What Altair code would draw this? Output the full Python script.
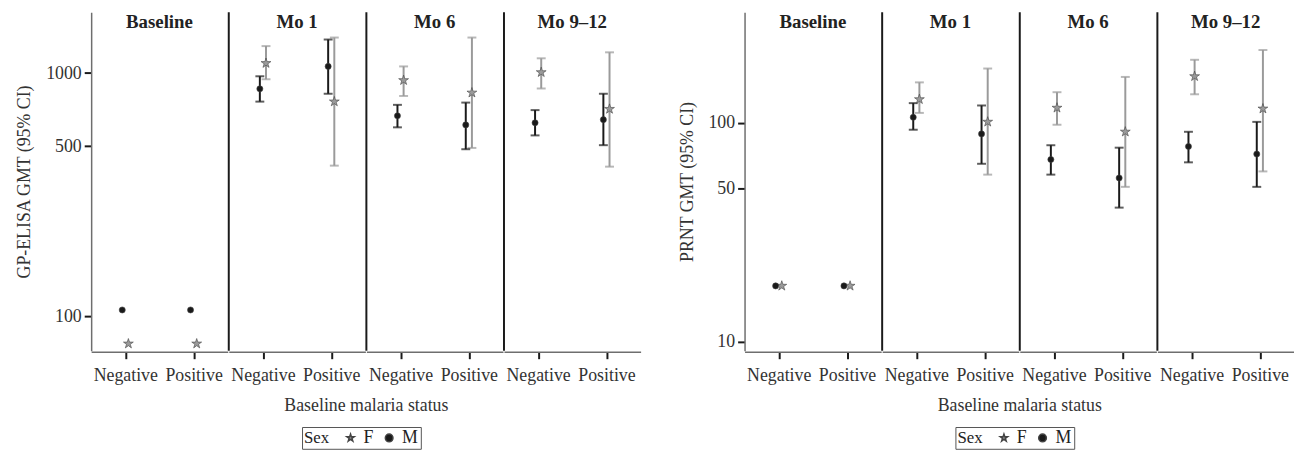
import altair as alt
import pandas as pd

times = ["Baseline", "Mo 1", "Mo 6", "Mo 9–12"]
statuses = ["Negative", "Positive"]
sexes = ["F", "M"]

# order: time -> status -> sex (F, M)
elisa_gmt = [77, 106, 77, 106,
             1098, 861, 763, 1065,
             934, 667, 830, 612,
             1007, 624, 711, 643]
elisa_lo = [None, None, None, None,
            943, 763, 416, 822,
            805, 598, 492, 486,
            864, 554, 412, 505]
elisa_hi = [None, None, None, None,
            1291, 970, 1400, 1374,
            1065, 740, 1400, 756,
            1150, 704, 1217, 822]

prnt_gmt = [18, 18, 18, 18,
            128, 106, 101, 89,
            117, 68, 91, 56,
            163, 78, 116, 72]
prnt_lo = [None, None, None, None,
           111, 93, 58, 65,
           98, 58, 51, 41,
           135, 66, 60, 51]
prnt_hi = [None, None, None, None,
           153, 123, 177, 120,
           138, 79, 162, 77,
           194, 91, 215, 101]

rows_t, rows_s, rows_x = [], [], []
for t in times:
    for s in statuses:
        for x in sexes:
            rows_t.append(t); rows_s.append(s); rows_x.append(x)

FONT = "Liberation Serif"
STAR = "M0,-1L0.2245,-0.309L0.951,-0.309L0.363,0.118L0.588,0.809L0,0.382L-0.588,0.809L-0.363,0.118L-0.951,-0.309L-0.2245,-0.309Z"
PW, PH = 138, 342
GREY, BLACK = "#9a9a9a", "#1a1a1a"


def make_chart(gmt, lo, hi, ytitle, ydomain, yvals):
    df = pd.DataFrame({"time": rows_t, "status": rows_s, "Sex": rows_x,
                       "gmt": gmt, "lo": lo, "hi": hi})
    base = alt.Chart().transform_calculate(
        xpos="(datum.status == 'Positive' ? 1 : 0) + (datum.Sex == 'F' ? 0.045 : -0.045)"
    )
    xenc = alt.X("xpos:Q", scale=alt.Scale(domain=[-0.5, 1.5], nice=False, zero=False),
                 axis=alt.Axis(values=[0, 1], labelExpr="datum.value == 0 ? 'Negative' : 'Positive'",
                               title=None, grid=False,
                               domainColor="#6e6e6e", domainWidth=1.5,
                               tickColor=BLACK, tickWidth=2, tickSize=7,
                               labelFontSize=18, labelFont=FONT, labelColor="#333",
                               labelPadding=8))
    yscale = alt.Scale(type="log", domain=ydomain, nice=False)
    yenc = alt.Y("gmt:Q", scale=yscale,
                 axis=alt.Axis(values=yvals, format="d", title=ytitle, grid=False,
                               domainColor="#6e6e6e", domainWidth=1.5,
                               tickColor=BLACK, tickWidth=2, tickSize=7,
                               labelFontSize=18, labelFont=FONT, labelColor="#333",
                               labelPadding=3, titleFontSize=18, titleFont=FONT,
                               titleFontWeight="normal", titleColor="#333", titlePadding=12))
    colcond = alt.condition("datum.Sex == 'F'", alt.value(GREY), alt.value(BLACK))
    colscale = alt.Scale(domain=["F", "M"], range=[GREY, BLACK])
    shapescale = alt.Scale(domain=["F", "M"], range=[STAR, "circle"])
    legend = alt.Legend(title="Sex", orient="none", legendX=213, legendY=419)

    bars = base.mark_rule(strokeWidth=2).encode(
        x=xenc, y=alt.Y("lo:Q", scale=yscale), y2="hi:Q", color=colcond)
    cap_lo = base.mark_tick(orient="horizontal", size=9, thickness=2).encode(
        x=xenc, y=alt.Y("lo:Q", scale=yscale), color=colcond)
    cap_hi = base.mark_tick(orient="horizontal", size=9, thickness=2).encode(
        x=xenc, y=alt.Y("hi:Q", scale=yscale), color=colcond)
    pts = base.mark_point(filled=True, opacity=1, stroke="#444", strokeWidth=0.6).encode(
        x=xenc, y=yenc,
        color=alt.Color("Sex:N", scale=colscale, legend=legend),
        shape=alt.Shape("Sex:N", scale=shapescale, legend=legend),
        size=alt.Size("Sex:N", scale=alt.Scale(domain=["F", "M"], range=[110, 38]), legend=None))
    sep = alt.Chart().transform_aggregate(n="count()", groupby=["time"]).transform_filter(
        "datum.time != 'Baseline'"
    ).mark_rule(color=BLACK, strokeWidth=2).encode(
        x=alt.value(0), y=alt.value(0), y2=alt.value(PH))
    head = alt.Chart().transform_aggregate(n="count()", groupby=["time"]).mark_text(
        font=FONT, fontSize=19, fontWeight="bold", color="#222", baseline="middle"
    ).encode(x=alt.value(PW / 2), y=alt.value(10), text="time:N")

    layered = alt.layer(bars, cap_lo, cap_hi, pts, sep, head).properties(width=PW, height=PH)
    return layered.facet(
        column=alt.Column("time:N", sort=times,
                          header=alt.Header(title="Baseline malaria status", titleOrient="bottom",
                                            titleFont=FONT, titleFontSize=18,
                                            titleFontWeight="normal", titleColor="#333",
                                            titlePadding=3, labels=False)),
        data=df, spacing=0
    )


left = make_chart(elisa_gmt, elisa_lo, elisa_hi, "GP-ELISA GMT (95% CI)", [72, 1780], [100, 500, 1000])
right = make_chart(prnt_gmt, prnt_lo, prnt_hi, "PRNT GMT (95% CI)", [9.1, 320], [10, 50, 100])

chart = alt.hconcat(left, right, spacing=38).resolve_legend(
    color="independent", shape="independent"
).configure(font=FONT).configure_view(stroke=None).configure_legend(
    direction="horizontal", titleOrient="left",
    titleFont=FONT, titleFontSize=17, titleFontWeight="normal", titleColor="#222",
    labelFont=FONT, labelFontSize=18, labelColor="#222",
    strokeColor="#555", padding=2, symbolSize=60, columnPadding=6, titlePadding=12
).properties(padding={"left": 8, "top": 1, "right": 0, "bottom": 0})

chart.save("out.html", embed_options={"renderer": "svg", "actions": False})
